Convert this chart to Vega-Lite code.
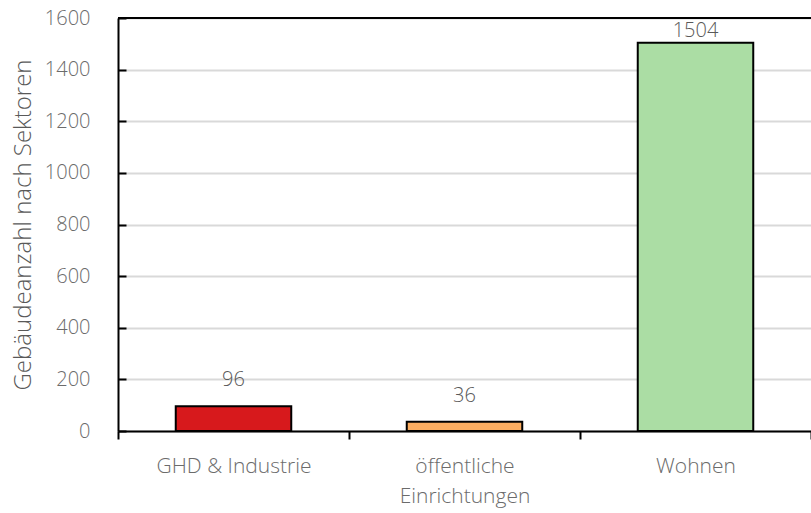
{
  "$schema": "https://vega.github.io/schema/vega-lite/v6.json",
  "autosize": "none",
  "width": 693,
  "height": 413,
  "padding": {"left": 118, "top": 18, "right": 0, "bottom": 82},
  "background": "white",
  "config": {
    "view": {"stroke": null},
    "font": "Open Sans",
    "axis": {"labelFont": "Open Sans", "titleFont": "Open Sans", "labelFontWeight": 300, "titleFontWeight": 300}
  },
  "data": {
    "values": [
      {"Sektor": "GHD & Industrie", "Anzahl": 96},
      {"Sektor": "öffentliche Einrichtungen", "Anzahl": 36},
      {"Sektor": "Wohnen", "Anzahl": 1504}
    ]
  },
  "layer": [
    {
      "mark": {"type": "bar", "stroke": "black", "strokeWidth": 2, "width": {"band": 0.5}},
      "encoding": {
        "x": {
          "field": "Sektor", "type": "nominal", "sort": null,
          "scale": {"paddingInner": 0, "paddingOuter": 0},
          "axis": {
            "title": null, "labelAngle": 0, "domainColor": "black", "domainWidth": 2,
            "tickColor": "black", "tickWidth": 2, "tickSize": 8, "tickBand": "extent",
            "labelFontSize": 21, "labelColor": "#6b6b6b", "labelPadding": 16,
            "labelLineHeight": 30,
            "labelExpr": "datum.label == 'öffentliche Einrichtungen' ? ['öffentliche', 'Einrichtungen'] : datum.label"
          }
        },
        "y": {
          "field": "Anzahl", "type": "quantitative",
          "scale": {"domain": [0, 1600]},
          "axis": {
            "title": "Gebäudeanzahl nach Sektoren", "titleFontSize": 24, "titleColor": "#595959",
            "titlePadding": 9, "format": "d",
            "values": [0, 200, 400, 600, 800, 1000, 1200, 1400, 1600],
            "domainColor": "black", "domainWidth": 2,
            "tickColor": "black", "tickWidth": 2, "tickSize": -8,
            "labelFontSize": 20, "labelColor": "#6b6b6b", "labelPadding": 36,
            "gridColor": "#d9d9d9", "gridWidth": 2
          }
        },
        "color": {
          "field": "Sektor", "type": "nominal", "legend": null,
          "scale": {"domain": ["GHD & Industrie", "öffentliche Einrichtungen", "Wohnen"], "range": ["#d7191c", "#fdae61", "#abdda4"]}
        }
      }
    },
    {
      "transform": [{"filter": "datum.Anzahl < 1000"}],
      "mark": {"type": "text", "dy": -26, "fontSize": 20, "fontWeight": 300, "color": "#595959"},
      "encoding": {
        "x": {"field": "Sektor", "type": "nominal", "sort": null},
        "y": {"field": "Anzahl", "type": "quantitative"},
        "text": {"field": "Anzahl", "type": "quantitative"}
      }
    },
    {
      "transform": [{"filter": "datum.Anzahl >= 1000"}],
      "mark": {"type": "text", "dy": -12, "fontSize": 20, "fontWeight": 300, "color": "#595959"},
      "encoding": {
        "x": {"field": "Sektor", "type": "nominal", "sort": null},
        "y": {"field": "Anzahl", "type": "quantitative"},
        "text": {"field": "Anzahl", "type": "quantitative"}
      }
    },
    {
      "mark": {"type": "rule", "color": "black", "strokeWidth": 2},
      "encoding": {"y": {"datum": 1600}}
    }
  ]
}
